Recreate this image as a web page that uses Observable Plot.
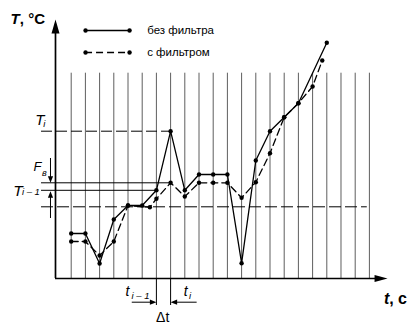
<!DOCTYPE html>
<html><head><meta charset="utf-8">
<script src="https://cdn.jsdelivr.net/npm/d3@7"></script>
<script src="https://cdn.jsdelivr.net/npm/@observablehq/plot@0.6"></script>
<style>
html,body{margin:0;padding:0;background:#fff;}
#chart svg{display:block;}
</style></head><body><div id="chart"></div>
<script>
// ---- data (time in sampling steps, temperature in arbitrary units) ----
const seriesNames = ["без фильтра", "с фильтром"];
const rawTime  = [0, 1, 2, 3, 4, 5, 6, 7, 8, 9, 10, 11, 12, 13, 14, 15, 16, 18];
const rawTemp  = [4.5, 4.5, 1.5, 5.9, 7.3, 7.3, 8.82, 14.73, 8.82, 10.4, 10.4, 10.4, 1.53, 11.8, 14.73, 16.13, 17.53, 23.57];
const filtTime = [0, 1, 2, 3, 4, 5.54, 6, 7, 8, 9, 10, 11, 12, 13, 14, 15, 16, 17, 17.68];
const filtTemp = [3.7, 3.7, 2.3, 3.7, 7.3, 7.13, 7.97, 9.57, 8.2, 9.57, 9.57, 9.57, 8.07, 9.63, 12.53, 16.13, 17.53, 19.2, 21.8];
const gridTicks = [0,1,2,3,4,5,6,7,8,9,10,11,12,13,14,15,16,17,18,19,20,21];
const gridTop = 20.53;
const levelTi = 14.73;      // T_i
const levelTi1 = 8.82;      // T_{i-1}
const levelFilt = 9.57;     // filtered value at t_i
const levelBand = 7.17;     // lower band
const tPrev = 6, tCur = 7;  // t_{i-1}, t_i

const raw = rawTime.map((t, i) => ({t, T: rawTemp[i]}));
const filt = filtTime.map((t, i) => ({t, T: filtTemp[i]}));

// layout helpers in data units
const axisX = -1.106, axisXEnd = 22.28, axisYEnd = 25.9;
const refStart = -2.09, bandEnd = 20.85;
const fArrowX = -1.458;
const dtY = -2.37;

const FONT = "'Liberation Sans', Arial, Helvetica, sans-serif";

function arrowHead(L, hw) {
  return {draw(ctx) { ctx.moveTo(0, 0); ctx.lineTo(hw, L); ctx.lineTo(-hw, L); ctx.closePath(); }};
}
const bigHeadY = arrowHead(14, 4);
const bigHeadX = arrowHead(13, 3.5);
const smallHead = arrowHead(6.5, 2.6);

const italicLabels = [
  {text: "T", x: -2.53, y: 15.4, size: 15},
  {text: "i", x: -1.96, y: 15.2, size: 9.5},
  {text: "F", x: -2.65, y: 10.8, size: 13},
  {text: "в", x: -2.05, y: 10.3, size: 9},
  {text: "T", x: -4.08, y: 8.3, size: 15.5},
  {text: "i – 1", x: -3.47, y: 8.4, size: 9.5},
  {text: "t", x: 3.83, y: -1.7, size: 14},
  {text: "i – 1", x: 4.25, y: -2.0, size: 9.5},
  {text: "t", x: 7.93, y: -1.7, size: 14},
  {text: "i", x: 8.3, y: -2.0, size: 9.5}
];
const deltaLabel = [{text: "Δt", x: 5.98, y: -4.37}];

const legendRows = [
  {name: seriesNames[0], y: 24.8, dash: null},
  {name: seriesNames[1], y: 22.6, dash: "7,4"}
];
const legendX1 = 1.01, legendX2 = 4.11, legendTextX = 5.35;

const marks = [
  Plot.ruleX(gridTicks, {y1: 0, y2: gridTop, stroke: "#5e5e5e", strokeWidth: 1}),
  Plot.ruleX([tPrev, tCur], {y1: 0, y2: -2.7, stroke: "#000", strokeWidth: 1}),
  Plot.ruleY([{y: levelTi, x2: tCur}], {y: "y", x1: refStart, x2: "x2", stroke: "#000", strokeWidth: 1, strokeDasharray: "11,4"}),
  Plot.ruleY([{y: levelFilt, x2: tCur}, {y: levelTi1, x2: tPrev}], {y: "y", x1: refStart, x2: "x2", stroke: "#000", strokeWidth: 1}),
  Plot.ruleY([levelBand], {x1: refStart, x2: bandEnd, stroke: "#000", strokeWidth: 1, strokeDasharray: "12,4"}),
  Plot.line(filt, {x: "t", y: "T", stroke: "#000", strokeWidth: 1.3, strokeDasharray: "7,4"}),
  Plot.line(raw, {x: "t", y: "T", stroke: "#000", strokeWidth: 1.3}),
  Plot.dot(filt, {x: "t", y: "T", r: 2.2, fill: "#000", stroke: "none"}),
  Plot.dot(raw, {x: "t", y: "T", r: 2.2, fill: "#000", stroke: "none"}),
  Plot.ruleX([axisX], {y1: 0, y2: axisYEnd - 1, stroke: "#000", strokeWidth: 1.7}),
  Plot.ruleY([0], {x1: axisX, x2: axisXEnd - 0.7, stroke: "#000", strokeWidth: 1.7}),
  Plot.dot([{x: axisX, y: axisYEnd}], {x: "x", y: "y", symbol: bigHeadY, fill: "#000", stroke: "none"}),
  Plot.dot([{x: axisXEnd, y: 0}], {x: "x", y: "y", symbol: bigHeadX, rotate: 90, fill: "#000", stroke: "none"}),
  Plot.ruleX([fArrowX], {y1: 12.0, y2: levelFilt + 0.3, stroke: "#000", strokeWidth: 1}),
  Plot.dot([{x: fArrowX, y: levelFilt}], {x: "x", y: "y", symbol: smallHead, rotate: 180, fill: "#000", stroke: "none"}),
  Plot.ruleX([fArrowX], {y1: 6.0, y2: levelTi1 - 0.3, stroke: "#000", strokeWidth: 1}),
  Plot.dot([{x: fArrowX, y: levelTi1 - 0.1}], {x: "x", y: "y", symbol: smallHead, rotate: 0, fill: "#000", stroke: "none"}),
  Plot.ruleY([dtY], {x1: 4.3, x2: tPrev - 0.2, stroke: "#000", strokeWidth: 1}),
  Plot.dot([{x: tPrev, y: dtY}], {x: "x", y: "y", symbol: smallHead, rotate: 90, fill: "#000", stroke: "none"}),
  Plot.ruleY([dtY], {x1: tCur + 0.2, x2: 8.87, stroke: "#000", strokeWidth: 1}),
  Plot.dot([{x: tCur, y: dtY}], {x: "x", y: "y", symbol: smallHead, rotate: -90, fill: "#000", stroke: "none"}),
  Plot.text(italicLabels, {x: "x", y: "y", text: "text", fontSize: "size", fontStyle: "italic", textAnchor: "start", lineAnchor: "bottom", fill: "#000", fontFamily: FONT}),
  Plot.text(deltaLabel, {x: "x", y: "y", text: "text", fontSize: 14, textAnchor: "start", lineAnchor: "bottom", fill: "#000", fontFamily: FONT}),
  Plot.text([{x: -4.27, y: 25.47, text: "T", size: 15}, {x: 22.02, y: -2.53, text: "t", size: 16}], {x: "x", y: "y", text: "text", fontSize: "size", fontStyle: "italic", fontWeight: "bold", textAnchor: "start", lineAnchor: "bottom", fill: "#000", fontFamily: FONT}),
  Plot.text([{x: -3.62, y: 25.47, text: ", °C", size: 15}, {x: 22.39, y: -2.53, text: ", c", size: 16}], {x: "x", y: "y", text: "text", fontSize: "size", fontWeight: "bold", textAnchor: "start", lineAnchor: "bottom", fill: "#000", fontFamily: FONT}),
  Plot.ruleY(legendRows.filter(d => !d.dash), {y: "y", x1: legendX1, x2: legendX2, stroke: "#000", strokeWidth: 1.3}),
  Plot.ruleY(legendRows.filter(d => d.dash), {y: "y", x1: legendX1, x2: legendX2, stroke: "#000", strokeWidth: 1.3, strokeDasharray: "7,4"}),
  Plot.dot(legendRows.flatMap(d => [{x: legendX1, y: d.y}, {x: legendX2, y: d.y}]), {x: "x", y: "y", r: 2.2, fill: "#000", stroke: "none"}),
  Plot.text(legendRows, {x: legendTextX, y: "y", text: "name", fontSize: 11.5, textAnchor: "start", lineAnchor: "middle", fill: "#000", fontFamily: FONT})
];

const chart = Plot.plot({
  width: 409,
  height: 324,
  margin: 0,
  x: {domain: [-4.979, 23.824], axis: null},
  y: {domain: [-4.6, 27.8], axis: null},
  style: {background: "#fff", fontFamily: FONT},
  marks
});
document.getElementById("chart").appendChild(chart);
</script>
</body></html>
